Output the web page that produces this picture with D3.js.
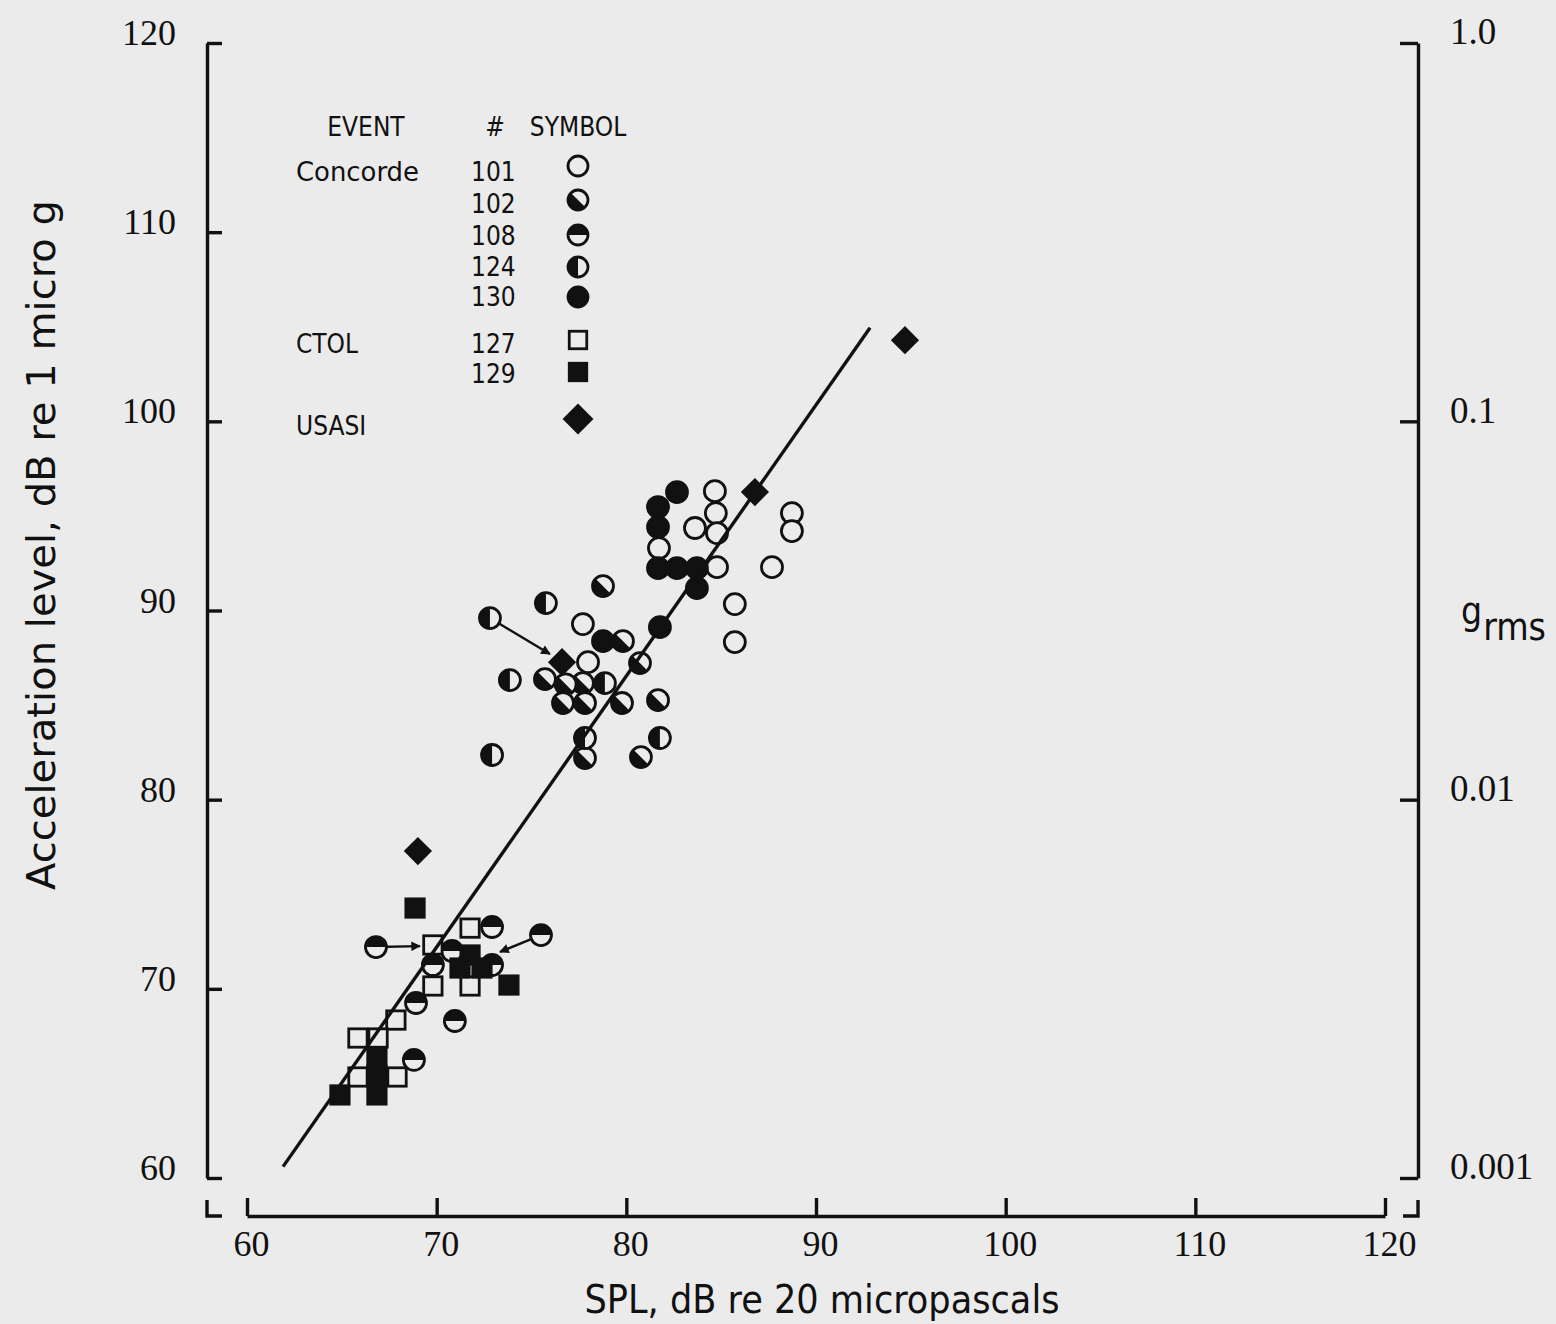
<!DOCTYPE html>
<html>
<head>
<meta charset="utf-8">
<script src="https://cdn.jsdelivr.net/npm/d3@7"></script>
<style>
  html, body { margin: 0; padding: 0; background: #ebebeb; }
  svg { display: block; }
  .sans { font-family: "DejaVu Sans Condensed", "Liberation Sans Narrow", "DejaVu Sans", sans-serif; }
  .serif { font-family: "Liberation Serif", "DejaVu Serif", serif; }
</style>
</head>
<body>
<svg id="chart" width="1556" height="1324"></svg>
<script>
// ---- Data: [SPL dB re 20 µPa, acceleration dB re 1 µg] ----
// Concorde events
const conc101 = [[81.72,93.30],[84.67,96.31],[84.72,95.15],[83.62,94.36],[84.78,94.09],[84.78,92.29],
                 [88.73,95.15],[88.73,94.20],[87.68,92.29],[85.72,90.34],[85.72,88.33],
                 [77.71,89.28],[77.98,87.27]];
const conc102 = [[78.77,91.29],[79.82,88.38],[80.72,87.22],[75.71,86.37],[77.71,86.16],[76.80,86.10],
                 [76.66,85.11],[77.82,85.11],[79.77,85.11],[81.67,85.26],[77.82,82.20],[80.77,82.25]];
const conc108 = [[66.80,72.21],[72.92,73.27],[75.50,72.84],[70.81,72.00],[72.92,71.26],[69.80,71.26],
                 [68.91,69.25],[70.96,68.30],[68.80,66.24]];
const conc124 = [[72.81,89.60],[75.76,90.39],[73.86,86.32],[78.87,86.16],[77.82,83.26],[81.77,83.26],
                 [72.92,82.36]];
const conc130 = [[82.67,96.26],[81.67,95.47],[81.67,94.41],[81.67,92.24],[82.67,92.24],[83.72,92.24],
                 [83.72,91.18],[78.77,88.38],[81.77,89.12]];
// CTOL events
const ctol127 = [[69.80,72.32],[71.76,73.21],[69.80,70.15],[71.76,70.15],[67.85,68.35],[65.85,67.40],
                 [66.91,67.40],[65.85,65.34],[67.91,65.34]];
const ctol129 = [[68.86,74.27],[73.81,70.20],[64.90,64.39],[66.85,64.39],[66.85,66.34],[66.85,65.44],
                 [71.76,71.79],[71.23,71.10],[72.39,71.10]];
// USASI noise
const usasi = [[69.01,77.28],[76.61,87.27],[86.78,96.26],[94.69,104.29]];

// Fitted line end points
const fitLine = [[61.9,60.6],[92.85,104.95]];
// Arrows linking related points: [from, to]
const arrows = [
  [[72.81,89.60],[75.97,87.70]],
  [[66.80,72.21],[69.12,72.26]],
  [[75.50,72.84],[73.34,71.95]]
];

// Axis ticks
const xTicks = [60,70,80,90,100,110,120];
const yTicks = [60,70,80,90,100,110,120];
const gTicks = [0.001,0.01,0.1,1];
const gTickLabels = ["0.001","0.01","0.1","1.0"];

// Legend rows
const legendEvents = ["Concorde","","","","","CTOL","","USASI"];
const legendNums = ["101","102","108","124","130","127","129",""];
const legendKinds = ["open","diag","top","left","full","sqOpen","sqFull","diamond"];

// ---- Drawing ----
const INK = "#111", PAPER = "#ebebeb";
const svg = d3.select("#chart");

const x = d3.scaleLinear().domain([60,120]).range([247,1385]);
const y = d3.scaleLinear().domain([60,120]).range([1178,43]);
const gScale = d3.scaleLog().domain([0.001,1]).range([1178,43]);
const leftX = 207, rightX = 1418, bottomY = 1216;
const AXW = 3.4;

function styleAxis(sel, size) {
  sel.select(".domain").attr("stroke", INK).attr("stroke-width", AXW);
  sel.selectAll(".tick line").attr("stroke", INK).attr("stroke-width", AXW);
  sel.selectAll(".tick text").attr("class", "serif").attr("font-size", size).attr("fill", INK);
  sel.attr("font-family", null).attr("font-size", null);
}

// Left axis (dB re 1 micro g)
const axL = svg.append("g").attr("transform", `translate(${leftX},0)`)
  .call(d3.axisLeft(y).tickValues(yTicks).tickSizeInner(-15).tickSizeOuter(0).tickPadding(31).tickFormat(d3.format("d")));
styleAxis(axL, 36);
axL.selectAll(".tick text").attr("y", -10);

// Right axis (g rms, log)
const axR = svg.append("g").attr("transform", `translate(${rightX},0)`)
  .call(d3.axisRight(gScale).tickValues(gTicks).tickSizeInner(-18).tickSizeOuter(0).tickPadding(32)
    .tickFormat((d, i) => gTickLabels[i]));
styleAxis(axR, 37);
axR.selectAll(".tick text").attr("y", -11);

// Bottom axis (SPL)
const axB = svg.append("g").attr("transform", `translate(0,${bottomY})`)
  .call(d3.axisBottom(x).tickValues(xTicks).tickSizeInner(-18).tickSizeOuter(0).tickPadding(14).tickFormat(d3.format("d")));
styleAxis(axB, 36);
axB.selectAll(".tick text").attr("dx", 4);

// Frame corners below the side axes
svg.append("path").attr("d", `M${leftX},${bottomY-16}V${bottomY}H${leftX+15}`)
  .attr("fill", "none").attr("stroke", INK).attr("stroke-width", AXW);
svg.append("path").attr("d", `M${rightX-15},${bottomY}H${rightX}V${bottomY-16}`)
  .attr("fill", "none").attr("stroke", INK).attr("stroke-width", AXW);

// Axis titles
svg.append("text").attr("class", "sans").attr("font-size", 39).attr("fill", INK)
  .attr("text-anchor", "middle")
  .attr("textLength", 690).attr("lengthAdjust", "spacingAndGlyphs")
  .attr("transform", `translate(55,545) rotate(-90)`)
  .text("Acceleration level, dB re 1 micro g");
svg.append("text").attr("class", "sans").attr("font-size", 39).attr("fill", INK)
  .attr("text-anchor", "middle").attr("x", 822).attr("y", 1313)
  .attr("textLength", 475).attr("lengthAdjust", "spacingAndGlyphs")
  .text("SPL, dB re 20 micropascals");
const gl = svg.append("text").attr("class", "sans").attr("font-size", 37).attr("fill", INK)
  .attr("x", 1461).attr("y", 624);
gl.append("tspan").text("g");
gl.append("tspan").attr("dy", 16).attr("dx", 1).text("rms");

// Symbol helpers
const R = 10.5;
function halfPath(kind, r) {
  const a = r / Math.SQRT2;
  if (kind === "diag") return `M${-a},${-a}A${r},${r} 0 0 0 ${a},${a}Z`;
  if (kind === "top") return `M${-r},0A${r},${r} 0 0 1 ${r},0Z`;
  if (kind === "left") return `M0,${-r}A${r},${r} 0 0 0 0,${r}Z`;
  return "";
}
function drawSymbol(sel, kind, r) {
  if (kind === "open" || kind === "diag" || kind === "top" || kind === "left" || kind === "full") {
    sel.append("circle").attr("r", r)
      .attr("fill", kind === "full" ? INK : PAPER)
      .attr("stroke", INK).attr("stroke-width", 2.8);
    if (kind !== "open" && kind !== "full") {
      sel.append("path").attr("d", halfPath(kind, r)).attr("fill", INK);
    }
  } else if (kind === "sqOpen" || kind === "sqFull") {
    const s = r * 1.75;
    sel.append("rect").attr("x", -s/2).attr("y", -s/2).attr("width", s).attr("height", s)
      .attr("fill", kind === "sqFull" ? INK : PAPER)
      .attr("stroke", INK).attr("stroke-width", 2.8);
  } else if (kind === "diamond") {
    sel.append("path")
      .attr("d", d3.symbol().type(d3.symbolSquare).size((r * 1.9) ** 2)())
      .attr("transform", "rotate(45)")
      .attr("fill", INK);
  }
}

// Arrow heads
svg.append("defs").append("marker")
  .attr("id", "arrowHead").attr("viewBox", "0 0 10 10")
  .attr("refX", 9).attr("refY", 5)
  .attr("markerWidth", 5).attr("markerHeight", 4)
  .attr("markerUnits", "strokeWidth").attr("orient", "auto")
  .append("path").attr("d", "M0,0L10,5L0,10Z").attr("fill", INK);

svg.append("g").selectAll("line").data(arrows).join("line")
  .attr("x1", d => x(d[0][0])).attr("y1", d => y(d[0][1]))
  .attr("x2", d => x(d[1][0])).attr("y2", d => y(d[1][1]))
  .attr("stroke", INK).attr("stroke-width", 2.4)
  .attr("marker-end", "url(#arrowHead)");

// Data points
const series = [
  [conc101, "open"], [conc102, "diag"], [conc108, "top"], [conc124, "left"], [conc130, "full"],
  [ctol127, "sqOpen"], [ctol129, "sqFull"], [usasi, "diamond"]
];
const pts = svg.append("g");
series.forEach(([data, kind]) => {
  pts.append("g").selectAll("g").data(data).join("g")
    .attr("transform", d => `translate(${x(d[0])},${y(d[1])})`)
    .each(function () { drawSymbol(d3.select(this), kind, R); });
});

// Fitted line
svg.append("path")
  .attr("d", d3.line().x(d => x(d[0])).y(d => y(d[1]))(fitLine))
  .attr("fill", "none").attr("stroke", INK).attr("stroke-width", 3.4);

// Legend
const lg = svg.append("g").attr("class", "sans").attr("fill", INK).attr("font-size", 26);
lg.append("text").attr("x", 366).attr("y", 136).attr("text-anchor", "middle").text("EVENT");
lg.append("text").attr("x", 495).attr("y", 136).attr("text-anchor", "middle").text("#");
lg.append("text").attr("x", 578).attr("y", 136).attr("text-anchor", "middle").text("SYMBOL");
const rowY = [172, 204, 236, 267, 297, 344, 374, 426];
const symY = [166, 200, 235, 267, 297, 340, 372, 419];
legendEvents.forEach((t, i) => {
  if (t) {
    const tx = lg.append("text").attr("x", 296).attr("y", rowY[i] + 9).text(t);
    if (t === "Concorde") tx.attr("textLength", 123).attr("lengthAdjust", "spacingAndGlyphs");
  }
  if (legendNums[i]) lg.append("text").attr("x", 471).attr("y", rowY[i] + 9).text(legendNums[i]);
  const s = lg.append("g").attr("transform", `translate(578,${symY[i]})`);
  drawSymbol(s, legendKinds[i], i === 7 ? 11.5 : 10);
});
</script>
</body>
</html>
